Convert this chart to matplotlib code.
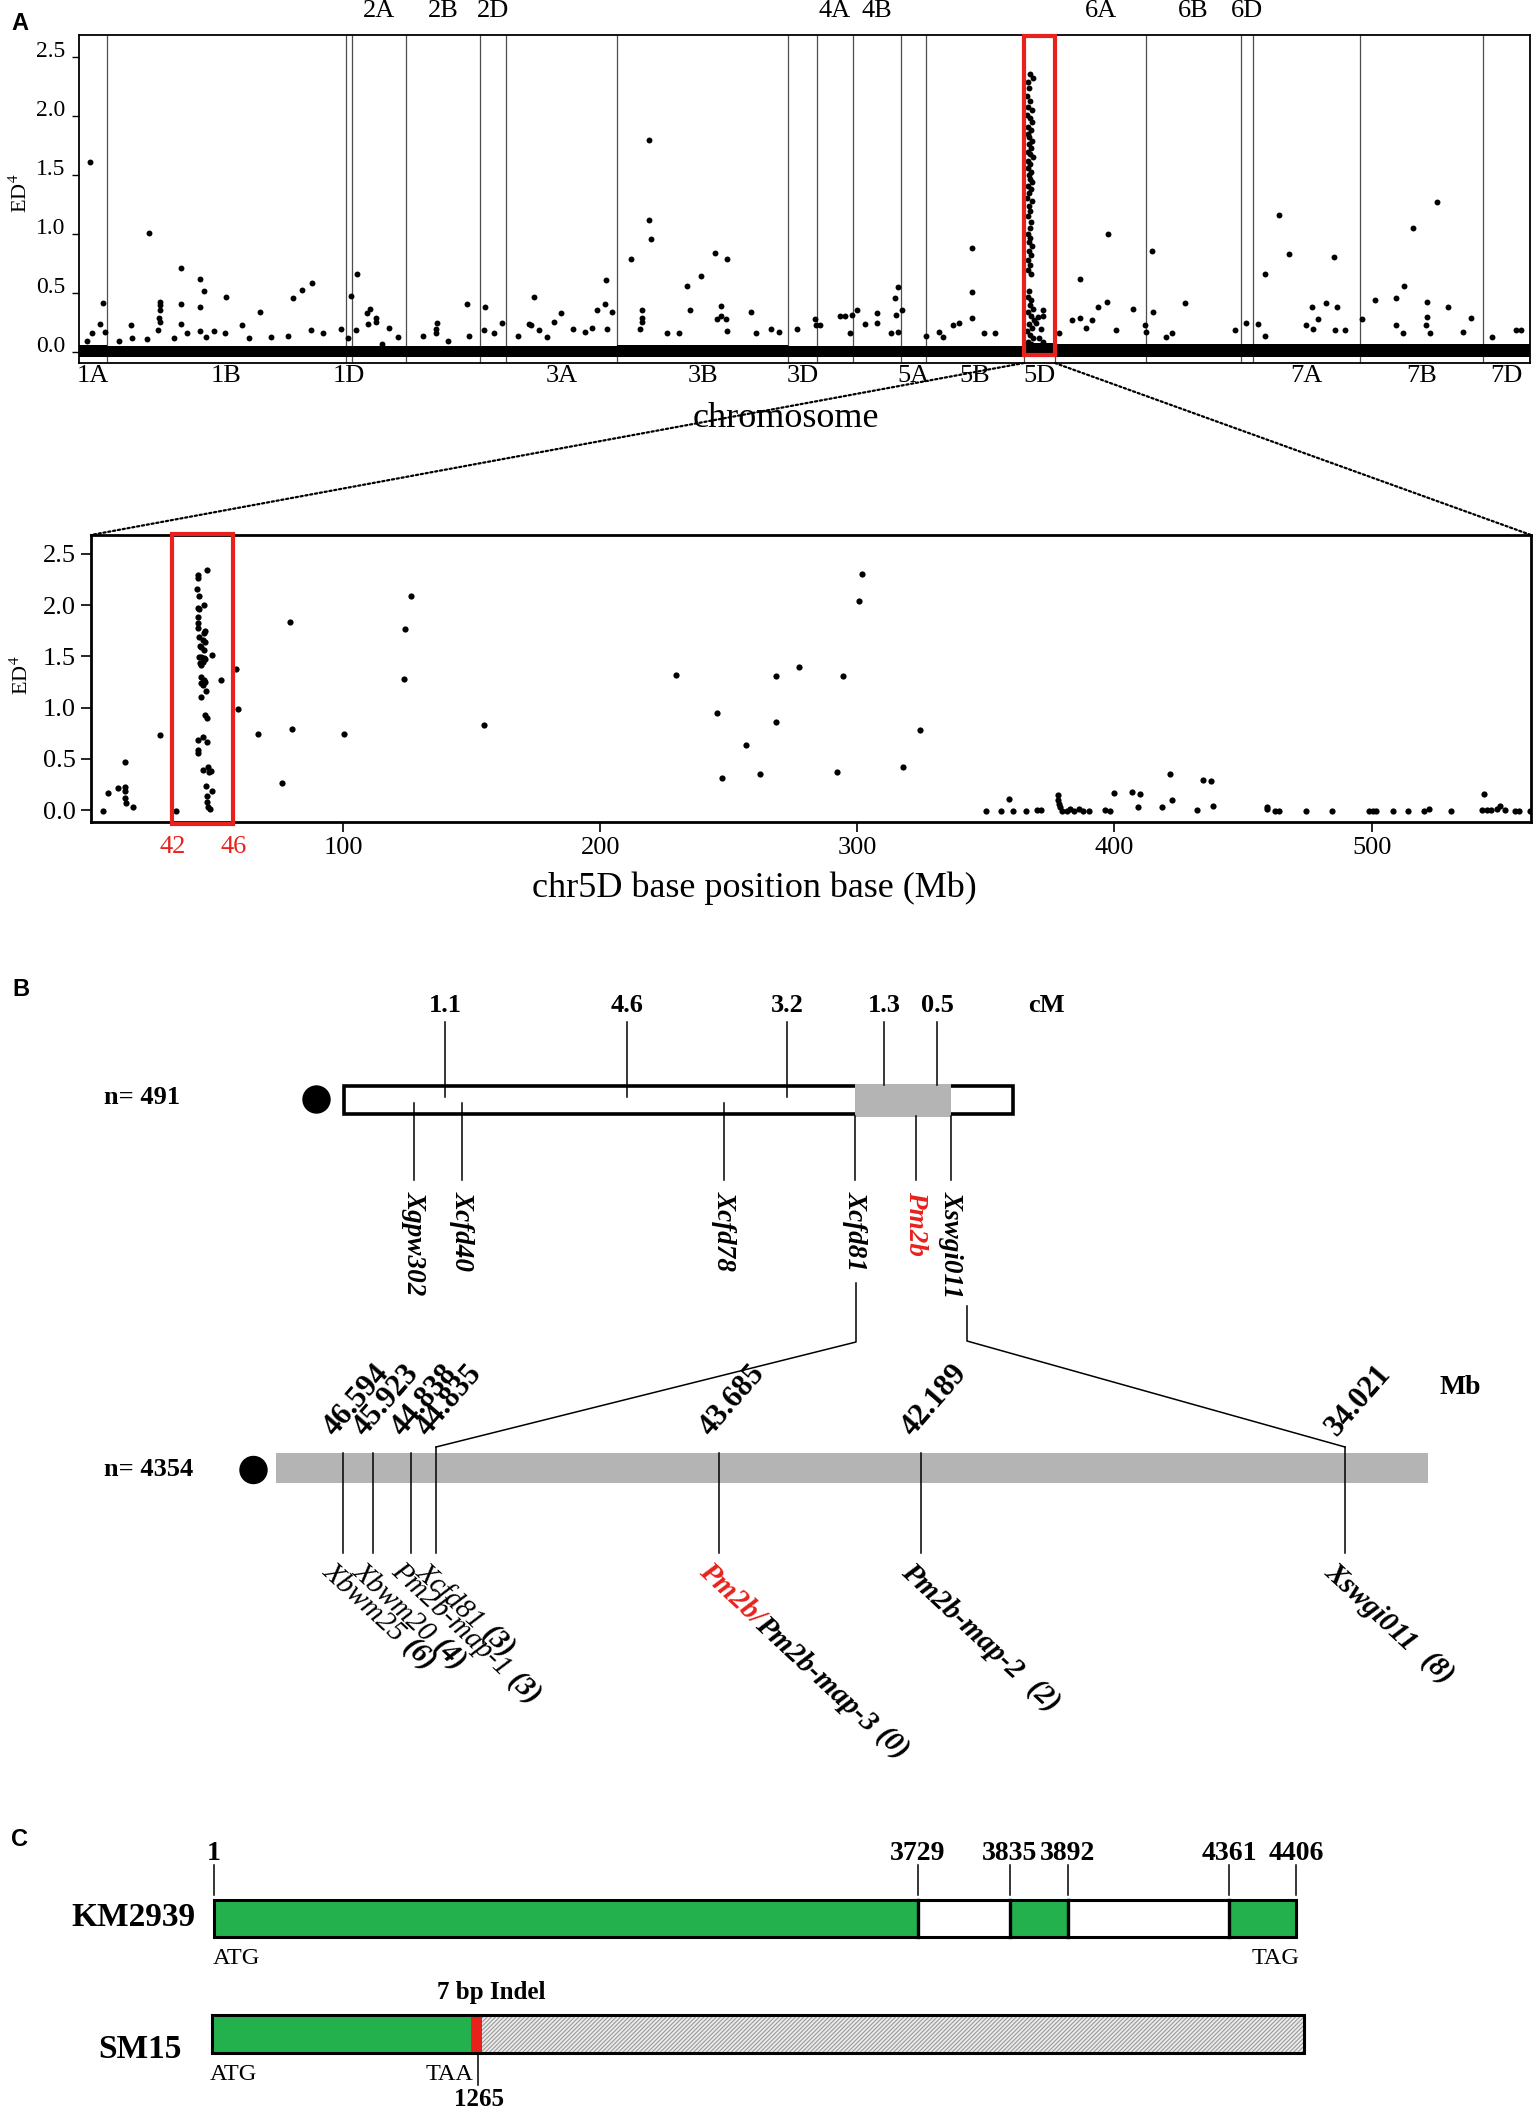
import numpy as np
import matplotlib
matplotlib.use("Agg")
import matplotlib.pyplot as plt
import matplotlib.transforms as mtransforms
from matplotlib.patches import Rectangle, Circle, ConnectionPatch
from matplotlib.font_manager import FontProperties

plt.rcParams["font.family"] = ["Liberation Serif", "DejaVu Serif"]
plt.rcParams["mathtext.fontset"] = "stix"
plt.rcParams["hatch.linewidth"] = 0.8

RED = "#e8211c"
GREEN = "#23b14d"
GRAY = "#b4b4b4"

# ------------------------------------------------------------------
# Panel A (top): genome-wide ED^4, x = SNP bin index along the genome
# ------------------------------------------------------------------
chrom_names = ["1A", "1B", "1D", "2A", "2B", "2D", "3A", "3B", "3D", "4A",
               "4B", "5A", "5B", "5D", "6A", "6B", "6D", "7A", "7B", "7D"]
chrom_bins = [21, 177, 5, 40, 55, 19, 83, 127, 21, 27,
              36, 18, 73, 23, 68, 70, 9, 80, 91, 35]
labels_on_top = ["2A", "2B", "2D", "4A", "4B", "6A", "6B", "6D"]

# dense cloud of near-zero SNPs, envelope per chromosome
band_low = [-0.035, -0.035, -0.035, -0.035, -0.035, -0.035, -0.035, -0.035, -0.035, -0.035,
            -0.035, -0.035, -0.035, -0.035, -0.035, -0.035, -0.035, -0.035, -0.035, -0.035]
band_high = [0.06, 0.05, 0.05, 0.05, 0.05, 0.05, 0.05, 0.06, 0.05, 0.05,
             0.05, 0.05, 0.05, 0.08, 0.07, 0.07, 0.07, 0.07, 0.07, 0.07]

genome_pos = [
    8.5, 18.1, 15.9, 9.3, 19.3, 5.6,                                   # 1A
    51.9, 75.6, 75.6, 75.6, 60.0, 60.4, 60.4, 59.3, 60.0, 58.5, 89.6,  # 1B
    92.6, 89.6, 89.6, 109.3, 121.1, 134.5, 159.3, 165.6, 173.0, 172.2,
    38.9, 39.3, 80.0, 100.0, 108.5, 155.6, 29.6, 50.4, 70.4, 94.5,
    126.0, 142.6, 181.5, 194.5,
    201.9, 200.0,                                                      # 1D
    206.7, 216.3, 213.7, 220.8, 220.8, 214.8, 230.4, 206.0, 225.2, 237.0,  # 2A
    266.0, 265.2, 265.2, 255.6, 288.2, 290.0, 274.0,                   # 2B
    301.9, 301.1, 308.2, 314.1,                                        # 2D
    338.2, 334.1, 335.6, 341.9, 352.6, 357.8, 366.7, 376.0, 380.8,     # 3A
    385.2, 391.5, 391.1, 396.3, 391.9, 326.0, 348.0,
    410.4, 423.4, 423.8, 425.2, 418.6, 418.6, 418.6, 417.1, 451.9,     # 3B
    453.7, 461.9, 472.6, 481.1, 476.7, 476.7, 474.1, 480.8, 481.5,
    499.3, 503.0, 514.1, 436.7, 446.0, 520.4,
    533.3, 546.5, 547.2,                                               # 3D
    550.5, 565.6, 568.9, 574.4, 573.0,                                 # 4A
    577.8, 584.0, 592.8, 592.8, 603.5, 608.3, 606.1, 606.8, 608.7,     # 4B
    611.6, 628.9,                                                      # 5A
    653.5, 649.1, 663.1, 663.1, 663.8, 672.3, 680.4, 638.8, 641.7,     # 5B
    744.0, 764.2, 763.9, 757.2, 737.4, 743.6, 748.4, 752.8, 783.4,     # 6A
    770.5, 728.2,
    797.0, 798.1, 822.0, 792.2, 792.5, 812.0, 807.3,                   # 6B
    866.8, 858.8,                                                      # 6D
    876.0, 881.2, 891.5, 898.8, 932.7, 915.8, 926.4, 934.5, 920.5,     # 7A
    911.3, 916.9, 933.1, 940.8, 880.8,
    953.3, 962.8, 978.7, 984.2, 991.2, 1009.2, 1001.5, 1001.5, 1000.7,  # 7B
    1017.1, 1034.2, 978.7, 983.8, 1027.9, 1004.0,
    1067.3, 1071.3, 1050.0,                                            # 7D
]
genome_ed = [
    1.61, 0.42, 0.24, 0.16, 0.17, 0.10,
    1.01, 0.71, 0.41, 0.24, 0.43, 0.40, 0.36, 0.29, 0.26, 0.19, 0.62,
    0.52, 0.38, 0.18, 0.47, 0.23, 0.34, 0.46, 0.53, 0.59, 0.19,
    0.23, 0.12, 0.16, 0.18, 0.16, 0.14, 0.10, 0.11, 0.12, 0.13,
    0.12, 0.13, 0.16, 0.20,
    0.48, 0.12,
    0.66, 0.37, 0.33, 0.29, 0.26, 0.24, 0.21, 0.19, 0.07, 0.13,
    0.25, 0.20, 0.16, 0.14, 0.41, 0.14, 0.10,
    0.38, 0.19, 0.16, 0.25,
    0.47, 0.24, 0.23, 0.19, 0.26, 0.33, 0.20, 0.17, 0.21,
    0.36, 0.61, 0.41, 0.34, 0.20, 0.14, 0.13,
    0.79, 1.80, 1.12, 0.96, 0.36, 0.29, 0.26, 0.20, 0.56,
    0.36, 0.65, 0.84, 0.79, 0.39, 0.31, 0.28, 0.28, 0.18,
    0.34, 0.16, 0.20, 0.16, 0.16, 0.17,
    0.20, 0.28, 0.23,
    0.23, 0.31, 0.31, 0.32, 0.16,
    0.36, 0.24, 0.33, 0.25, 0.16, 0.55, 0.46, 0.32, 0.17,
    0.36, 0.14,
    0.25, 0.23, 0.88, 0.51, 0.29, 0.16, 0.16, 0.17, 0.13,
    0.62, 1.00, 0.43, 0.38, 0.27, 0.29, 0.21, 0.27, 0.37,
    0.19, 0.16,
    0.86, 0.34, 0.42, 0.23, 0.17, 0.16, 0.13,
    0.25, 0.19,
    0.24, 0.66, 1.16, 0.83, 0.81, 0.38, 0.42, 0.38, 0.28,
    0.23, 0.20, 0.19, 0.19, 0.14,
    0.28, 0.44, 0.46, 0.56, 1.05, 1.27, 0.43, 0.30, 0.23,
    0.38, 0.29, 0.23, 0.16, 0.17, 0.16,
    0.19, 0.19, 0.13,
]

# the Pm2b peak on 5D
peak5d_pos = [706.9, 708.7, 705.0, 705.9, 704.3, 706.5, 705.2, 707.8, 704.6, 706.2,
              708.3, 705.4, 707.1, 704.8, 706.0, 708.0, 705.6, 707.3, 704.9, 706.4,
              708.5, 705.3, 706.8, 704.7, 707.6, 705.8, 706.6, 708.1, 705.1, 707.0,
              706.1, 704.5, 707.9, 705.7, 706.9, 705.0, 707.4, 706.3, 704.9, 706.7,
              705.5, 708.2, 706.0, 707.3, 705.2, 706.5, 704.7, 707.0, 705.8, 704.9,
              707.6, 706.3, 708.4, 705.4, 707.1, 709.5, 705.9, 707.8, 704.6, 706.8,
              709.0, 705.3, 707.5, 712.5, 714.8, 713.0, 716.0, 711.0, 716.4, 716.4]
peak5d_ed = [2.36, 2.32, 2.29, 2.24, 2.17, 2.13, 2.08, 2.05, 2.01, 1.98,
             1.95, 1.91, 1.88, 1.85, 1.82, 1.79, 1.76, 1.73, 1.70, 1.68,
             1.65, 1.62, 1.59, 1.56, 1.53, 1.50, 1.47, 1.44, 1.41, 1.38,
             1.35, 1.31, 1.28, 1.24, 1.20, 1.15, 1.10, 1.05, 1.00, 0.97,
             0.93, 0.90, 0.86, 0.82, 0.78, 0.74, 0.70, 0.66, 0.52, 0.47,
             0.44, 0.40, 0.37, 0.34, 0.31, 0.27, 0.24, 0.21, 0.18, 0.15,
             0.12, 0.09, 0.07, 0.30, 0.20, 0.12, 0.09, 0.25, 0.36, 0.31]

# ------------------------------------------------------------------
# Panel A (bottom): chr5D zoom, x in Mb
# ------------------------------------------------------------------
chr5d_mb = [
    6.8, 8.7, 12.4, 15.3, 15.3, 15.3, 15.5, 15.1, 18.4, 28.8, 35.0,
    47.2, 43.7, 43.7, 43.1, 43.9, 45.8, 43.5, 43.9, 43.7, 43.7, 43.5, 46.4,
    45.8, 43.9, 45.5, 46.2, 44.3, 44.7, 45.8, 49.1, 43.9, 44.9, 45.8, 46.4,
    44.5, 45.5, 44.9, 58.4, 44.7, 45.8, 44.9, 46.2, 45.5, 52.4, 46.6, 44.9,
    59.2, 46.4, 47.0, 43.5, 45.6, 47.0, 43.5, 43.5, 47.4, 45.5, 48.7, 47.8,
    46.6, 49.1, 47.0, 47.0, 47.4, 48.2,
    66.9, 76.2, 79.5, 80.3, 100.4, 124.0, 126.3, 123.6, 154.9, 229.6, 245.5,
    247.2, 256.7, 262.3, 268.3, 268.3, 277.3, 294.6, 292.3, 300.6, 301.9,
    317.9, 324.5,
    350.1, 355.9, 359.0, 360.7, 365.7, 369.9, 371.3, 378.0, 378.0, 378.6,
    379.0, 379.6, 381.5, 382.9, 384.4, 386.3, 387.9, 390.2, 396.5, 398.3,
    399.8, 406.7, 410.0, 409.1, 418.5, 421.6, 422.5, 432.0, 434.5, 437.4,
    438.3, 459.5, 459.5, 462.4, 464.0, 474.6, 484.6, 499.0, 500.4, 501.9,
    508.3, 514.1, 520.2, 522.5, 530.8, 543.9, 542.8, 544.7, 546.6, 548.6,
    550.1, 552.0, 555.9, 557.2, 561.6,
]
chr5d_ed = [
    -0.01, 0.17, 0.22, 0.23, 0.19, 0.12, 0.07, 0.47, 0.03, 0.73, -0.01,
    2.34, 2.29, 2.26, 2.16, 2.09, 2.00, 1.97, 1.96, 1.88, 1.83, 1.78, 1.75,
    1.73, 1.69, 1.66, 1.64, 1.60, 1.59, 1.56, 1.51, 1.49, 1.49, 1.48, 1.47,
    1.44, 1.45, 1.42, 1.38, 1.30, 1.27, 1.24, 1.25, 1.22, 1.27, 1.16, 1.10,
    0.99, 0.93, 0.90, 0.69, 0.71, 0.67, 0.59, 0.56, 0.42, 0.39, 0.38, 0.37,
    0.24, 0.19, 0.14, 0.08, 0.03, 0.01,
    0.74, 0.27, 1.84, 0.79, 0.74, 1.77, 2.09, 1.28, 0.83, 1.32, 0.95,
    0.31, 0.64, 0.35, 1.31, 0.86, 1.40, 1.31, 0.37, 2.04, 2.30,
    0.42, 0.78,
    -0.01, -0.01, 0.11, -0.01, -0.01, 0.00, 0.00, 0.15, 0.10, 0.06,
    0.03, -0.01, -0.01, 0.01, -0.01, 0.01, -0.01, -0.01, 0.00, -0.01,
    0.17, 0.18, 0.16, 0.03, 0.03, 0.35, 0.10, 0.00, 0.30, 0.29,
    0.04, 0.03, 0.01, -0.01, -0.01, -0.01, -0.01, -0.01, -0.01, -0.01,
    -0.01, -0.01, -0.01, 0.01, -0.01, 0.16, 0.00, 0.00, 0.00, 0.01,
    0.04, 0.00, -0.01, -0.01, -0.01,
]
peak_window_mb = (33.6, 57.4)
peak_window_labels = ["42", "46"]
chr5d_ticks = [100, 200, 300, 400, 500]
ed_ticks = [0.0, 0.5, 1.0, 1.5, 2.0, 2.5]

# ------------------------------------------------------------------
# Panel B: genetic map (cM) and physical map (Mb)
# ------------------------------------------------------------------
gen_n = 491
gen_markers = ["Xgpw302", "Xcfd40", "Xcfd78", "Xcfd81", "Pm2b", "Xswgi011"]
gen_intervals_cm = ["1.1", "4.6", "3.2", "1.3", "0.5"]
phys_n = 4354
phys_markers = ["Xbwm25", "Xbwm20", "Pm2b-map-1", "Xcfd81",
                "Pm2b-map-3", "Pm2b-map-2", "Xswgi011"]
phys_mb = ["46.594", "45.923", "44.838", "44.835", "43.685", "42.189", "34.021"]
phys_recombinants = [6, 4, 3, 3, 0, 2, 8]

# ------------------------------------------------------------------
# Panel C: gene structure (bp)
# ------------------------------------------------------------------
gene_bp = [1, 3729, 3835, 3892, 4361, 4406]
km2939_segments = ["exon", "intron", "exon", "intron", "exon"]
sm15_stop_bp = 1265
indel_label = "7 bp Indel"

# ==================================================================
W, H = 1535, 2109
fig = plt.figure(figsize=(W / 100, H / 100), dpi=100)


def frac(l, t, r, b):
    return [l / W, 1 - b / H, (r - l) / W, (b - t) / H]


ax_top = fig.add_axes(frac(79, 35, 1530, 363))
ax_low = fig.add_axes(frac(91, 535, 1531, 822))
ax_d = fig.add_axes([0, 0, 1, 1], zorder=-1)
ax_d.set_xlim(0, W)
ax_d.set_ylim(H, 0)
ax_d.axis("off")

# ---------------------------- A, top -------------------------------
edges = np.concatenate([[0], np.cumsum(chrom_bins)])
i5d = chrom_names.index("5D")
for e in edges[1:-1]:
    ax_top.axvline(e, color="#4d4d4d", lw=0.9, zorder=1)
for i in range(len(chrom_names)):
    ax_top.add_patch(Rectangle((edges[i], band_low[i]), chrom_bins[i],
                               band_high[i] - band_low[i], facecolor="black",
                               edgecolor="none", zorder=2))
ax_top.scatter(genome_pos, genome_ed, s=18, c="black", lw=0, zorder=4)
ax_top.scatter(peak5d_pos, peak5d_ed, s=18, c="black", lw=0, zorder=4)
ax_top.add_patch(Rectangle((edges[i5d], -0.025), chrom_bins[i5d], 2.70, fill=False,
                           ec=RED, lw=3, zorder=5, clip_on=False))
ax_top.set_xlim(0, edges[-1])
ax_top.set_ylim(-0.09, 2.686)
ax_top.set_xticks([])
ax_top.set_yticks(ed_ticks)
ax_top.set_yticklabels([f"{v:.1f}" for v in ed_ticks])
ax_top.tick_params(axis="y", direction="out", length=5, width=1, pad=5, labelsize=17)
for lab in ax_top.get_yticklabels():
    lab.set_verticalalignment("baseline")
for sp in ax_top.spines.values():
    sp.set_linewidth(1.3)

trans_top = mtransforms.blended_transform_factory(ax_top.transData, ax_top.transAxes)
for i, name in enumerate(chrom_names):
    xc = (edges[i] + edges[i + 1]) / 2
    y = 1.073 if name in labels_on_top else -0.04
    ax_top.text(xc, y, name, transform=trans_top, ha="center", va="center", fontsize=19)
ax_top.text(0.487, -0.168, "chromosome", transform=ax_top.transAxes,
            ha="center", va="center", fontsize=26)
fig.text(21 / W, 1 - 193 / H, "ED$^4$", rotation=90, ha="center", va="center", fontsize=16)

# ---------------------------- A, bottom ----------------------------
ax_low.scatter(chr5d_mb, chr5d_ed, s=20, c="black", lw=0, zorder=3)
ax_low.set_xlim(2, 562)
ax_low.set_ylim(-0.114, 2.683)
ax_low.set_xticks(chr5d_ticks)
ax_low.set_yticks(ed_ticks)
ax_low.set_yticklabels([f"{v:.1f}" for v in ed_ticks])
ax_low.tick_params(direction="out", length=7, width=1.2, pad=4, labelsize=19)
for sp in ax_low.spines.values():
    sp.set_linewidth(2)
lo, hi = peak_window_mb
ax_low.add_patch(Rectangle((lo, -0.135), hi - lo, 2.83, fill=False, ec=RED, lw=3,
                           zorder=5, clip_on=False))
trans_low = mtransforms.blended_transform_factory(ax_low.transData, ax_low.transAxes)
for xv, lab in zip(peak_window_mb, peak_window_labels):
    ax_low.text(xv, -0.087, lab, transform=trans_low, ha="center", va="center",
                fontsize=19, color=RED)
ax_low.text(0.461, -0.23, "chr5D base position base (Mb)", transform=ax_low.transAxes,
            ha="center", va="center", fontsize=26)
fig.text(22 / W, 1 - 675 / H, "ED$^4$", rotation=90, ha="center", va="center", fontsize=16)

# dotted zoom connectors
for xa, xb in [(edges[i5d], 0), (edges[i5d + 1], 1)]:
    con = ConnectionPatch(xyA=(xa, 0), coordsA=trans_top, xyB=(xb, 1),
                          coordsB=ax_low.transAxes, linestyle=(0, (1, 1.2)),
                          lw=1.6, color="black")
    fig.add_artist(con)

# ---------------------------- panel letters ------------------------
for letter, (lx, ly) in zip("ABC", [(20, 23), (21, 990), (20, 1840)]):
    ax_d.text(lx, ly, letter, ha="center", va="center", fontsize=17,
              fontweight="bold", family="Liberation Sans")

# ---------------------------- B, genetic map -----------------------
gl, gt, gr, gb = 344, 1086, 1013, 1114
ax_d.add_patch(Rectangle((gl, gt), gr - gl, gb - gt, fc="white", ec="black", lw=2.6, zorder=2))
ax_d.add_patch(Rectangle((855, gt - 2.5), 96, gb - gt + 5, fc=GRAY, ec="none", zorder=3))
ax_d.add_patch(Circle((316.5, 1099.5), 13.5, color="black"))
ax_d.text(104, 1098, f"n= {gen_n}", ha="left", va="center", fontsize=19, fontweight="bold")

cm_x = [445, 627, 787, 884, 937]
cm_end = [1097, 1097, 1097, 1085, 1085]
for x, yend, lab in zip(cm_x, cm_end, gen_intervals_cm):
    ax_d.plot([x, x], [1022, yend], color="black", lw=1.1, zorder=4)
    ax_d.text(x, 1006, lab, ha="center", va="center", fontsize=19, fontweight="bold")
ax_d.text(1046, 1006, "cM", ha="center", va="center", fontsize=19, fontweight="bold")

gen_x = [414, 462, 724, 855, 916, 951]
gen_start = [1103, 1103, 1103, 1116, 1116, 1116]
for x, y0, name in zip(gen_x, gen_start, gen_markers):
    ax_d.plot([x, x], [y0, 1180], color="black", lw=1.1, zorder=4)
    ax_d.text(x, 1191, name, rotation=270, rotation_mode="anchor", ha="left", va="center",
              fontsize=19.5, fontweight="bold", fontstyle="italic",
              color=RED if name == "Pm2b" else "black")

# links from the genetic to the physical map
ax_d.plot([856, 856, 436], [1283, 1342, 1447], color="black", lw=1.1)
ax_d.plot([967, 967, 1345], [1306, 1341, 1447], color="black", lw=1.1)

# ---------------------------- B, physical map ----------------------
ax_d.add_patch(Rectangle((276, 1453), 1152, 30, fc=GRAY, ec="none", zorder=2))
ax_d.add_patch(Circle((253.5, 1470), 13.5, color="black"))
ax_d.text(104, 1470, f"n= {phys_n}", ha="left", va="center", fontsize=19, fontweight="bold")
ax_d.text(1460, 1387, "Mb", ha="center", va="center", fontsize=20, fontweight="bold")

renderer = fig.canvas.get_renderer()


def text_run(x, y, parts, angle, size):
    # pieces written one after another along a rotated baseline
    dx, dy = np.cos(np.deg2rad(angle)), -np.sin(np.deg2rad(angle))
    for s, color, weight, gap in parts:
        x += gap * dx
        y += gap * dy
        ax_d.text(x, y, s, rotation=angle, rotation_mode="anchor", ha="left", va="top",
                  fontsize=size, color=color, fontweight=weight, fontstyle="italic")
        fp = FontProperties(family="Liberation Serif", size=size, weight=weight, style="italic")
        w, _, _ = renderer.get_text_width_height_descent(s, fp, ismath=False)
        x += w * dx
        y += w * dy


phys_x = [343, 373, 411, 436, 719, 921, 1345]
phys_top = [1453, 1453, 1453, 1447, 1453, 1453, 1447]
name_weight = ["normal", "normal", "normal", "normal", "bold", "bold", "bold"]
count_gap = [8, 8, 8, 8, 8, 16, 16]
for i, x in enumerate(phys_x):
    ax_d.plot([x, x], [phys_top[i], 1553], color="black", lw=1.1, zorder=4)
    ax_d.text(x - 8, 1437, phys_mb[i], rotation=49, rotation_mode="anchor", ha="left",
              va="baseline", fontsize=22, fontweight="bold")
    parts = []
    if phys_markers[i] == "Pm2b-map-3":
        parts.append(("Pm2b/", RED, "bold", 0))
    parts.append((phys_markers[i], "black", name_weight[i], 0))
    parts.append((f"({phys_recombinants[i]})", "black", "bold", count_gap[i]))
    text_run(x - 7, 1558, parts, -43, 21)

# ---------------------------- C, gene structure --------------------
gene_x = [214, 918, 1010, 1068, 1229, 1296]
kt, kb = 1900, 1937
for j, seg in enumerate(km2939_segments):
    ax_d.add_patch(Rectangle((gene_x[j], kt), gene_x[j + 1] - gene_x[j], kb - kt,
                             fc=GREEN if seg == "exon" else "white", ec="none", zorder=2))
ax_d.add_patch(Rectangle((gene_x[0], kt), gene_x[-1] - gene_x[0], kb - kt, fill=False,
                         ec="black", lw=2.2, zorder=3))
for x in gene_x[1:-1]:
    ax_d.plot([x, x], [kt, kb], color="black", lw=2.4, zorder=3)
for x, bp in zip(gene_x, gene_bp):
    ax_d.plot([x, x], [1865, 1895], color="black", lw=1.1)
    ax_d.text(x, 1860, str(bp), ha="center", va="baseline", fontsize=20, fontweight="bold")
ax_d.text(71, 1917, "KM2939", ha="left", va="center", fontsize=24, fontweight="bold")
ax_d.text(213, 1958, "ATG", ha="left", va="center", fontsize=17.5)
ax_d.text(1299, 1958, "TAG", ha="right", va="center", fontsize=17.5)

st, sb, sl, sr = 2015, 2053, 212, 1304
stop_x, indel_w = 471, 11
ax_d.add_patch(Rectangle((sl, st), stop_x - sl, sb - st, fc=GREEN, ec="none", zorder=2))
ax_d.add_patch(Rectangle((stop_x, st), indel_w, sb - st, fc=RED, ec="none", zorder=2))
ax_d.add_patch(Rectangle((stop_x + indel_w, st), sr - stop_x - indel_w, sb - st, fc="#ececec",
                         ec="#9a9a9a", lw=0, hatch="////////", zorder=2))
ax_d.add_patch(Rectangle((sl, st), sr - sl, sb - st, fill=False, ec="black", lw=2.2, zorder=3))
ax_d.text(98, 2049, "SM15", ha="left", va="center", fontsize=24, fontweight="bold")
ax_d.text(491, 1993, indel_label, ha="center", va="center", fontsize=18, fontweight="bold")
ax_d.plot([478, 478], [sb, 2085], color="black", lw=1.1)
ax_d.text(210, 2074, "ATG", ha="left", va="center", fontsize=17.5)
ax_d.text(473, 2074, "TAA", ha="right", va="center", fontsize=17.5)
ax_d.text(479, 2099, str(sm15_stop_bp), ha="center", va="center", fontsize=18, fontweight="bold")

fig.savefig("out.png", dpi=100)
